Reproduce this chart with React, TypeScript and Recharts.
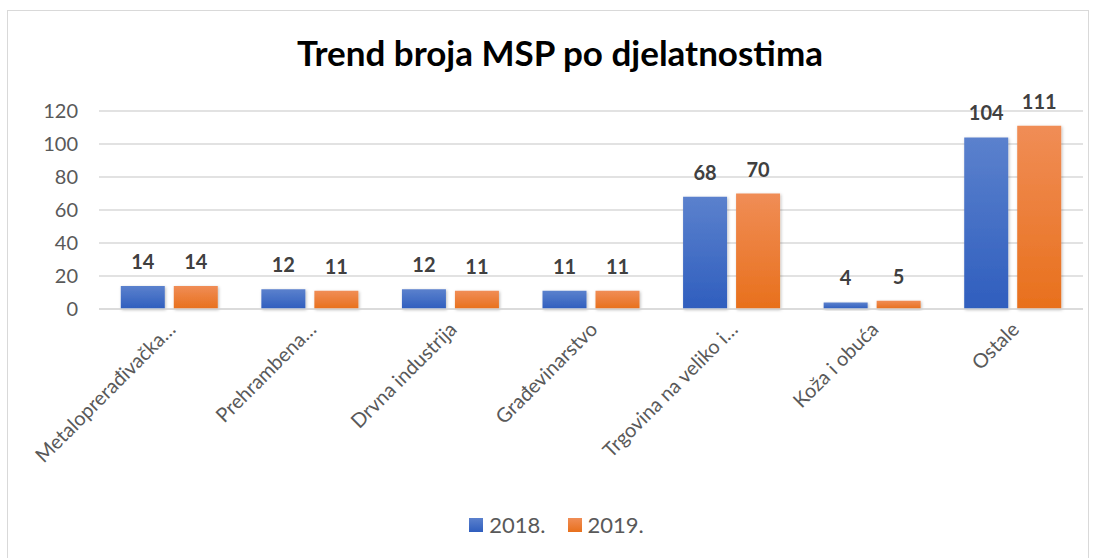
import React from 'react';
import { BarChart, Bar, XAxis, YAxis, CartesianGrid, LabelList, Legend } from 'recharts';

const CATEGORIES = [
  'Metaloprerađivačka…',
  'Prehrambena…',
  'Drvna industrija',
  'Građevinarstvo',
  'Trgovina na veliko i…',
  'Koža i obuća',
  'Ostale',
];
const VALUES_2018 = [14, 12, 12, 11, 68, 4, 104];
const VALUES_2019 = [14, 11, 11, 11, 70, 5, 111];
const Y_TICKS = [0, 20, 40, 60, 80, 100, 120];
const SERIES = [
  { key: 'y2018', name: '2018.' },
  { key: 'y2019', name: '2019.' },
];

const DATA = CATEGORIES.map((name, i) => ({ name, y2018: VALUES_2018[i], y2019: VALUES_2019[i] }));

const FONT = 'Lato, "Open Sans", sans-serif';

function XTick(props: any) {
  const { x, y, payload } = props;
  return (
    <g transform={`translate(${x + 2},${y + 8})`}>
      <text
        transform="rotate(-45)"
        textAnchor="end"
        dominantBaseline="central"
        fill="#595959"
        fontSize={20}
        fontFamily={FONT}
      >
        {payload.value}
      </text>
    </g>
  );
}

function LegendContent() {
  const fills = ['url(#gBlue)', 'url(#gOrange)'];
  return (
    <div style={{ height: 44, display: 'flex', justifyContent: 'center', alignItems: 'flex-start', gap: 22, paddingLeft: 30, boxSizing: 'border-box' }}>
      {SERIES.map((s, i) => (
        <div key={s.key} style={{ display: 'flex', alignItems: 'center', gap: 6, fontFamily: FONT, fontSize: 22, color: '#595959', lineHeight: '22px', height: 22 }}>
          <svg width={14} height={14}>
            <rect width={14} height={14} fill={fills[i]} />
          </svg>
          {s.name}
        </div>
      ))}
    </div>
  );
}

export default function App() {
  return (
    <div style={{ position: 'absolute', left: 0, top: 0, width: 1098, height: 558, background: '#fff', overflow: 'hidden' }}>
      <div style={{ position: 'absolute', left: 7, top: 10, width: 1082, height: 600, border: '1px solid #d9d9d9', boxSizing: 'border-box' }} />
      <div style={{ position: 'absolute', left: 0, top: 31, width: 1120, textAlign: 'center', fontFamily: FONT, fontWeight: 700, fontSize: 35, color: '#000' }}>
        Trend broja MSP po djelatnostima
      </div>
      <BarChart
        width={1098}
        height={558}
        data={DATA}
        margin={{ top: 111, right: 15, left: 0, bottom: 0 }}
        barCategoryGap="15.5%"
        barGap={9}
        style={{ position: 'absolute', left: 0, top: 0 }}
      >
        <defs>
          <linearGradient id="gBlue" x1="0" y1="0" x2="0" y2="1">
            <stop offset="0%" stopColor="#5B81CD" />
            <stop offset="100%" stopColor="#2F5EBE" />
          </linearGradient>
          <linearGradient id="gOrange" x1="0" y1="0" x2="0" y2="1">
            <stop offset="0%" stopColor="#F08D56" />
            <stop offset="100%" stopColor="#E8701C" />
          </linearGradient>
          <filter id="shadow" x="-20%" y="-20%" width="140%" height="140%">
            <feDropShadow dx="1" dy="1" stdDeviation="1.5" floodColor="#000" floodOpacity="0.25" />
          </filter>
        </defs>
        <CartesianGrid vertical={false} stroke="#d9d9d9" strokeWidth={1.5} />
        <XAxis
          dataKey="name"
          interval={0}
          height={205}
          axisLine={{ stroke: '#d9d9d9', strokeWidth: 1.5 }}
          tickLine={false}
          tick={<XTick />}
        />
        <YAxis
          domain={[0, 120]}
          ticks={Y_TICKS}
          width={99}
          tickMargin={15}
          axisLine={false}
          tickLine={false}
          tick={{ fill: '#595959', fontSize: 20, fontFamily: FONT }}
        />
        <Legend verticalAlign="bottom" content={<LegendContent />} />
        <Bar dataKey="y2018" name="2018." fill="url(#gBlue)" filter="url(#shadow)" isAnimationActive={false}>
          <LabelList dataKey="y2018" position="top" offset={17} fill="#404040" fontSize={20} fontWeight={700} fontFamily={FONT} />
        </Bar>
        <Bar dataKey="y2019" name="2019." fill="url(#gOrange)" filter="url(#shadow)" isAnimationActive={false}>
          <LabelList dataKey="y2019" position="top" offset={17} fill="#404040" fontSize={20} fontWeight={700} fontFamily={FONT} />
        </Bar>
      </BarChart>
    </div>
  );
}
